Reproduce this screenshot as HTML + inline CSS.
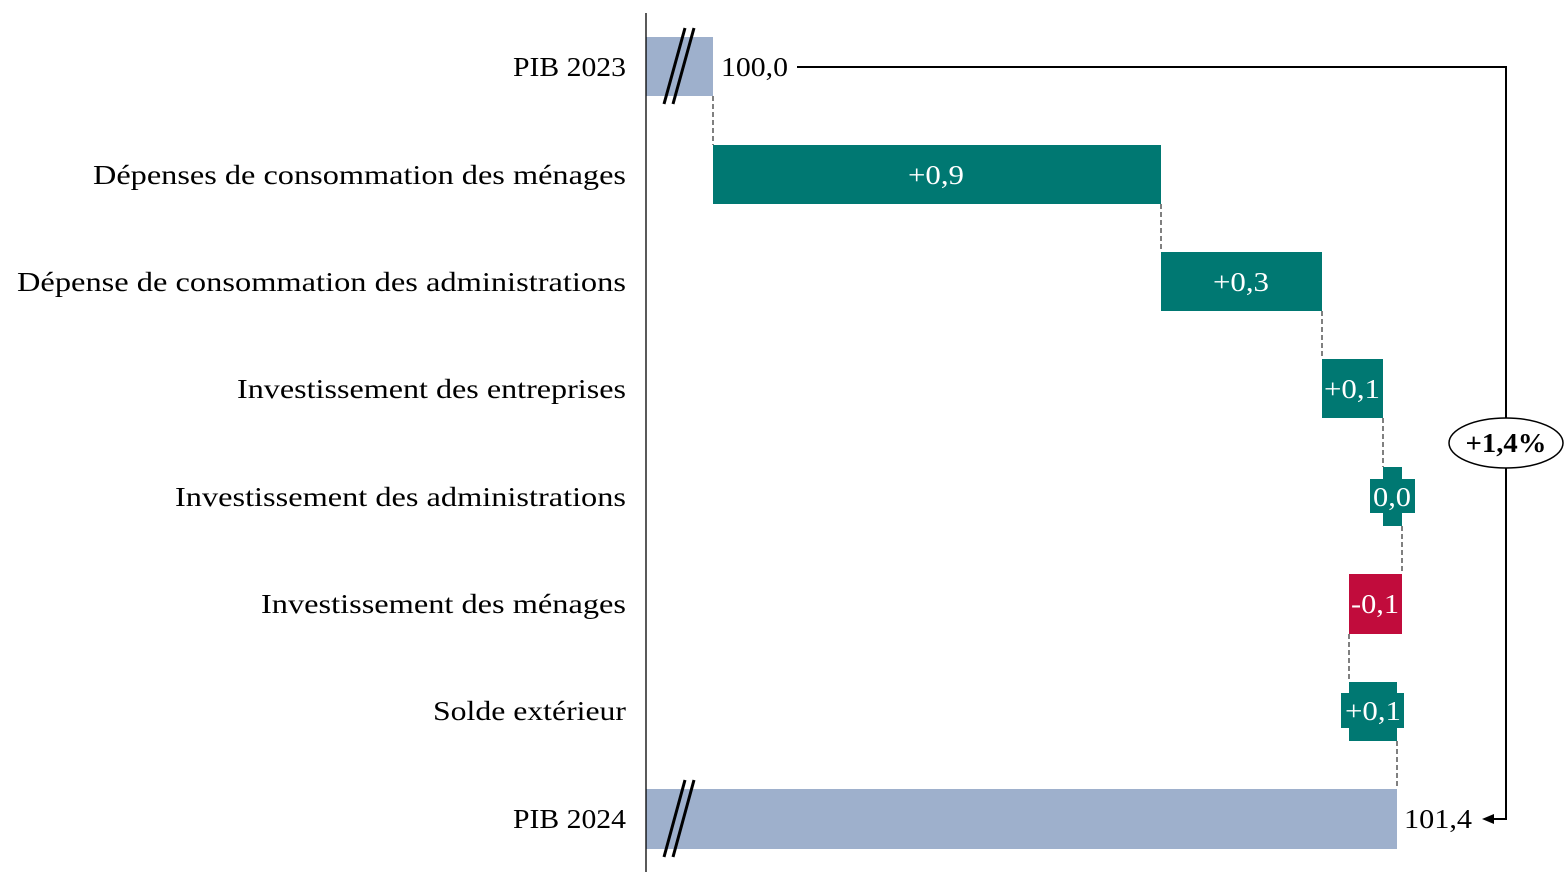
<!DOCTYPE html>
<html><head><meta charset="utf-8"><style>html,body{margin:0;padding:0;background:#fff}svg{display:block}</style></head>
<body>
<svg width="1565" height="886" viewBox="0 0 1565 886" xmlns="http://www.w3.org/2000/svg" font-family="'Liberation Serif', serif" font-size="27">
<g fill="#000" text-anchor="end">
<text x="626" y="76" textLength="113" lengthAdjust="spacingAndGlyphs">PIB 2023</text>
<text x="626" y="184" textLength="533" lengthAdjust="spacingAndGlyphs">Dépenses de consommation des ménages</text>
<text x="626" y="291" textLength="609" lengthAdjust="spacingAndGlyphs">Dépense de consommation des administrations</text>
<text x="626" y="398" textLength="389" lengthAdjust="spacingAndGlyphs">Investissement des entreprises</text>
<text x="626" y="506" textLength="451" lengthAdjust="spacingAndGlyphs">Investissement des administrations</text>
<text x="626" y="613" textLength="365" lengthAdjust="spacingAndGlyphs">Investissement des ménages</text>
<text x="626" y="720" textLength="193" lengthAdjust="spacingAndGlyphs">Solde extérieur</text>
<text x="626" y="828" textLength="113" lengthAdjust="spacingAndGlyphs">PIB 2024</text>
</g>
<rect x="646" y="37" width="67" height="59" fill="#9eb0cc"/>
<rect x="713" y="145" width="448" height="59" fill="#007872"/>
<rect x="1161" y="252" width="161" height="59" fill="#007872"/>
<rect x="1322" y="359" width="61" height="59" fill="#007872"/>
<rect x="1383" y="467" width="19" height="59" fill="#007872"/>
<rect x="1370" y="479" width="45" height="34" fill="#007872"/>
<rect x="1349" y="574" width="53" height="60" fill="#c10c3c"/>
<rect x="1349" y="682" width="48" height="59" fill="#007872"/>
<rect x="1341" y="693" width="63" height="35" fill="#007872"/>
<rect x="646" y="789" width="751" height="60" fill="#9eb0cc"/>
<g stroke="#000" stroke-width="1" stroke-dasharray="5,3" fill="none">
<line x1="713" y1="96" x2="713" y2="145"/>
<line x1="1161" y1="204" x2="1161" y2="252"/>
<line x1="1322" y1="311" x2="1322" y2="359"/>
<line x1="1383" y1="418" x2="1383" y2="467"/>
<line x1="1402" y1="526" x2="1402" y2="574"/>
<line x1="1349" y1="634" x2="1349" y2="682"/>
<line x1="1397" y1="741" x2="1397" y2="789"/>
</g>
<line x1="646" y1="13" x2="646" y2="872" stroke="#000" stroke-width="1.3"/>
<g stroke="#000" stroke-width="3">
<line x1="685" y1="28" x2="664" y2="104"/><line x1="694" y1="28" x2="673" y2="104"/>
<line x1="685" y1="780" x2="664" y2="857"/><line x1="694" y1="780" x2="673" y2="857"/>
</g>
<g fill="#fff" text-anchor="middle">
<text x="936" y="184" textLength="56" lengthAdjust="spacingAndGlyphs">+0,9</text>
<text x="1241" y="291" textLength="56" lengthAdjust="spacingAndGlyphs">+0,3</text>
<text x="1352" y="398" textLength="56" lengthAdjust="spacingAndGlyphs">+0,1</text>
<text x="1392" y="506" textLength="38" lengthAdjust="spacingAndGlyphs">0,0</text>
<text x="1375" y="613" textLength="48" lengthAdjust="spacingAndGlyphs">-0,1</text>
<text x="1373" y="720" textLength="56" lengthAdjust="spacingAndGlyphs">+0,1</text>
</g>
<text x="721" y="76" fill="#000" textLength="67" lengthAdjust="spacingAndGlyphs">100,0</text>
<text x="1404" y="828" fill="#000" textLength="68" lengthAdjust="spacingAndGlyphs">101,4</text>
<polyline points="797,67 1506,67 1506,819 1492,819" fill="none" stroke="#000" stroke-width="2"/>
<polygon points="1482,819 1494,814 1494,824" fill="#000"/>
<ellipse cx="1506" cy="443" rx="57" ry="25" fill="#fff" stroke="#000" stroke-width="1.5"/>
<text x="1506" y="452" text-anchor="middle" font-weight="bold" fill="#000" textLength="81" lengthAdjust="spacingAndGlyphs">+1,4%</text>
</svg>
</body></html>
